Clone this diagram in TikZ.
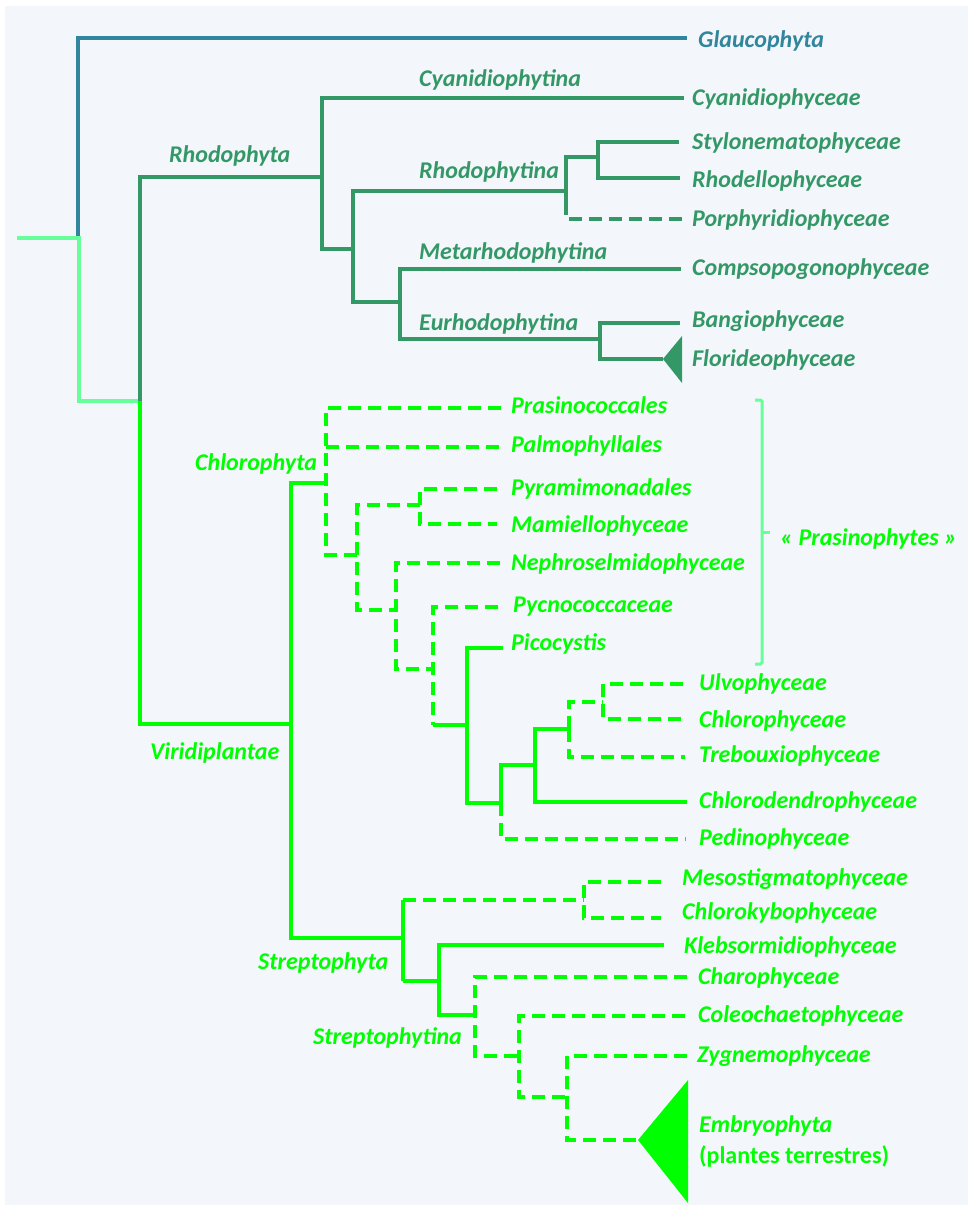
\documentclass[tikz,border=0pt]{standalone}
\usepackage{fontspec}
\setmainfont{Carlito}
\definecolor{glau}{RGB}{49,133,156}
\definecolor{rho}{RGB}{52,152,102}
\definecolor{mint}{RGB}{102,255,153}
\definecolor{vir}{RGB}{0,255,0}
\definecolor{bgc}{RGB}{243,247,252}
\begin{document}
\begin{tikzpicture}[x=1pt,y=-1pt,line join=miter,
  br/.style={line width=3.8pt},
  dsh/.style={br,dash pattern=on 13pt off 7pt},
  lab/.style={anchor=base west,inner sep=0pt,font=\fontsize{24}{28}\selectfont\bfseries\itshape},
  labup/.style={anchor=base west,inner sep=0pt,font=\fontsize{24}{28}\selectfont\bfseries}]
\useasboundingbox (0,0) rectangle (968,1206);
\fill[bgc] (5,6) rectangle (968,1205);

% ---------- coordinates ----------
\coordinate (r0) at (17,238);
\coordinate (r1) at (78,238);
\coordinate (glt) at (687,38);
\coordinate (a1) at (79,238);
\coordinate (a2) at (140,401);
\coordinate (a3) at (79,401);
\coordinate (rh1) at (322,177);
\coordinate (cyt) at (684,98);
\coordinate (rh2) at (322,249);
\coordinate (rh3) at (353,249);
\coordinate (rtt) at (566,191);
\coordinate (rh4) at (353,302);
\coordinate (rh5) at (400,302);
\coordinate (rt2) at (566,157);
\coordinate (rt3) at (598,157);
\coordinate (rt4) at (566,202);
\coordinate (pot) at (682,219);
\coordinate (stt) at (679,142);
\coordinate (rd0) at (598,178);
\coordinate (rdt) at (680,178);
\coordinate (met) at (681,269);
\coordinate (eu0) at (400,339);
\coordinate (eu1) at (600,339);
\coordinate (bat) at (680,323);
\coordinate (fl0) at (600,359);
\coordinate (flt) at (663,359);
\coordinate (fla) at (682,336);
\coordinate (flb) at (682,383);
% green
\coordinate (vi0) at (140,724);
\coordinate (vi1) at (291,724);
\coordinate (cht) at (327,483);
\coordinate (sp0) at (291,938);
\coordinate (sp1) at (403,938);
\coordinate (prt) at (501,408);
\coordinate (ch1) at (326,555);
\coordinate (ch2) at (357,555);
\coordinate (ch3) at (326,447);
\coordinate (pat) at (501,447);
\coordinate (pyn) at (420,505);
\coordinate (pm1) at (357,610);
\coordinate (pm2) at (396,610);
\coordinate (pyt) at (497,489);
\coordinate (mam) at (420,524);
\coordinate (mat) at (497,524);
\coordinate (net) at (500,563);
\coordinate (ne1) at (396,669);
\coordinate (ne2) at (433,669);
\coordinate (pct) at (498,607);
\coordinate (pc1) at (433,725);
\coordinate (pc2) at (467,725);
\coordinate (pit) at (503,648);
\coordinate (pi1) at (467,803);
\coordinate (pi2) at (501,803);
\coordinate (pe0) at (501,765);
\coordinate (pe1) at (535,765);
\coordinate (pe2) at (501,839);
\coordinate (pet) at (686,839);
\coordinate (cdt) at (687,802);
\coordinate (cd1) at (535,729);
\coordinate (cd2) at (569,729);
\coordinate (tr0) at (569,702);
\coordinate (tr1) at (603,702);
\coordinate (tr2) at (569,757);
\coordinate (trt) at (685,757);
\coordinate (ult) at (683,684);
\coordinate (ul1) at (603,719);
\coordinate (clt) at (683,719);
\coordinate (ms0) at (403,900);
\coordinate (ms1) at (584,900);
\coordinate (mst) at (661,882);
\coordinate (ms2) at (584,918);
\coordinate (ckt) at (661,918);
\coordinate (kl0) at (403,981);
\coordinate (kl1) at (439,981);
\coordinate (klt) at (664,945);
\coordinate (kl2) at (439,1015);
\coordinate (kl3) at (475,1015);
\coordinate (cat) at (687,977);
\coordinate (ca1) at (475,1056);
\coordinate (ca2) at (519,1056);
\coordinate (cot) at (685,1016);
\coordinate (co1) at (519,1097);
\coordinate (co2) at (567,1097);
\coordinate (zyt) at (687,1056);
\coordinate (zy1) at (567,1140);
\coordinate (emt) at (638,1140);
\coordinate (ema) at (688,1080);
\coordinate (emb) at (688,1203);
\coordinate (bk0) at (755,400);
\coordinate (bk1) at (762,400);
\coordinate (bk2) at (762,664);
\coordinate (bk3) at (755,664);
\coordinate (bkm) at (762,532);
\coordinate (bkt) at (770,532);

% ---------- branches ----------
\draw[br,glau] (r1) |- (glt);
\draw[br,mint] (r0) -- (a1) |- (a2);
\draw[br,rho] (a2) |- (rh1);
\draw[br,rho] (cyt) -| (rh2) -- (rh3);
\draw[br,rho] (rtt) -| (rh4) -- (rh5);
\draw[br,rho] (rt4) |- (rt3);
\draw[dsh,rho] (rt4) |- (pot);
\draw[br,rho] (stt) -| (rd0) -- (rdt);
\draw[br,rho] (met) -| (eu0) -- (eu1);
\draw[br,rho] (bat) -| (fl0) -- (flt);
\fill[rho] (flt) -- (fla) -- (flb) -- cycle;

\draw[br,vir] (a2) |- (vi1);
\draw[br,vir] (cht) -| (sp0) -- (sp1);
\draw[dsh,vir] (prt) -| (ch1) -- (ch2);
\draw[dsh,vir] (ch3) -- (pat);
\draw[dsh,vir] (pyn) -| (pm1) -- (pm2);
\draw[dsh,vir] (pyt) -| (mam) -- (mat);
\draw[dsh,vir] (net) -| (ne1) -- (ne2);
\draw[dsh,vir] (pct) -| (pc1);
\draw[br,vir] (pc1) -- (pc2);
\draw[br,vir] (pit) -| (pi1) -- (pi2);
\draw[br,vir] (pi2) |- (pe1);
\draw[dsh,vir] (pi2) |- (pet);
\draw[br,vir] (cdt) -| (cd1) -- (cd2);
\draw[dsh,vir] (cd2) |- (tr1);
\draw[dsh,vir] (cd2) |- (trt);
\draw[dsh,vir] (ult) -| (ul1) -- (clt);
\draw[br,vir] (kl0) |- (ms0);
\draw[br,vir] (sp1) -- (ms0);
\draw[br,vir] (kl0) -- (kl1);
\draw[dsh,vir] (ms0) -- (ms1);
\draw[dsh,vir] (mst) -| (ms2) -- (ckt);
\draw[br,vir] (klt) -| (kl2) -- (kl3);
\draw[dsh,vir] (cat) -| (ca1) -- (ca2);
\draw[dsh,vir] (cot) -| (co1) -- (co2);
\draw[dsh,vir] (zyt) -| (zy1) -- (emt);
\fill[vir] (emt) -- (ema) -- (emb) -- cycle;

\draw[mint,line width=3pt,rounded corners=1.5pt] (bk0) -- (bk1) -- (bk2) -- (bk3);
\draw[mint,line width=3pt] (bkm) -- (bkt);

% ---------- labels ----------
\begin{scope}[glau]
\node[lab] (Lgl) at (698,47.7) {Glaucophyta};
\end{scope}
\begin{scope}[rho]
\node[lab] (Lcyn) at (419,87) {Cyanidiophytina};
\node[lab] (Lcy) at (692,106) {Cyanidiophyceae};
\node[lab] (Lrh) at (169,163) {Rhodophyta};
\node[lab] (Lst) at (692,150) {Stylonematophyceae};
\node[lab] (Lrht) at (419,179) {Rhodophytina};
\node[lab] (Lrd) at (692,188) {Rhodellophyceae};
\node[lab] (Lpo) at (692,226.7) {Porphyridiophyceae};
\node[lab] (Lmet) at (419,259) {Metarhodophytina};
\node[lab] (Lco) at (692,275) {Compsopogonophyceae};
\node[lab] (Leu) at (419,330) {Eurhodophytina};
\node[lab] (Lba) at (692,327) {Bangiophyceae};
\node[lab] (Lfl) at (692,366) {Florideophyceae};
\end{scope}
\begin{scope}[vir]
\node[lab] (Lpr) at (511,413) {Prasinococcales};
\node[lab] (Lpa) at (511,452.7) {Palmophyllales};
\node[lab] (Lch) at (195,470.7) {Chlorophyta};
\node[lab] (Lpy) at (511,495.7) {Pyramimonadales};
\node[lab] (Lma) at (511,532) {Mamiellophyceae};
\node[lab] (Lne) at (511,570.7) {Nephroselmidophyceae};
\node[lab] (Lpc) at (513,612) {Pycnococcaceae};
\node[lab] (Lpi) at (511,650.7) {Picocystis};
\node[lab] (Lps) at (780,545) {« Prasinophytes »};
\node[lab] (Lul) at (699,690) {Ulvophyceae};
\node[lab] (Lcl) at (699,727.7) {Chlorophyceae};
\node[lab] (Ltr) at (699,762.3) {Trebouxiophyceae};
\node[lab] (Lvi) at (150,759) {Viridiplantae};
\node[lab] (Lcd) at (699,808.3) {Chlorodendrophyceae};
\node[lab] (Lpe) at (699,845.7) {Pedinophyceae};
\node[lab] (Lms) at (682,885) {Mesostigmatophyceae};
\node[lab] (Lck) at (682,919.3) {Chlorokybophyceae};
\node[lab] (Lkl) at (684,953.3) {Klebsormidiophyceae};
\node[lab] (Lsp) at (258,969) {Streptophyta};
\node[lab] (Lca) at (698,984) {Charophyceae};
\node[lab] (Lcoe) at (698,1022.7) {Coleochaetophyceae};
\node[lab] (Lspt) at (313,1044) {Streptophytina};
\node[lab] (Lzy) at (697,1062.3) {Zygnemophyceae};
\node[lab] (Lem) at (699,1132.7) {Embryophyta};
\node[labup] (Lpt) at (699,1163) {(plantes terrestres)};
\end{scope}
\end{tikzpicture}
\end{document}
